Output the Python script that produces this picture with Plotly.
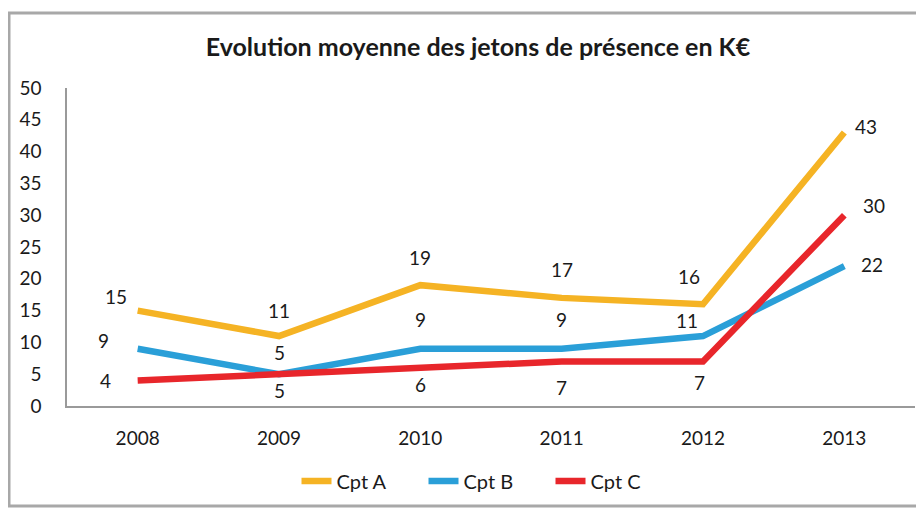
import plotly.graph_objects as go

years = ["2008", "2009", "2010", "2011", "2012", "2013"]
cpt_a = [15, 11, 19, 17, 16, 43]
cpt_b = [9, 5, 9, 9, 11, 22]
cpt_c = [4, 5, 6, 7, 7, 30]

# page body has an 8px margin, so the figure is drawn 8px smaller
# and all pixel positions below are screen positions minus 8
OFF = 8
W, H = 924 - OFF, 509 - OFF
L, R, T, B = 67 - OFF, 924 - 915, 88 - OFF, 509 - 406

series = [
    ("Cpt A", cpt_a, "#F5B324",
     [(-22, 14), (0, 26), (0, 28), (0, 28), (-14, 28), (22, 6)]),
    ("Cpt B", cpt_b, "#2A9FD8",
     [(-34, 8), (0, 22), (0, 29), (0, 29), (-16, 16), (28, 2)]),
    ("Cpt C", cpt_c, "#E8262B",
     [(-32, 0), (0, -16), (0, -17), (0, -26), (-4, -21), (30, 10)]),
]

fig = go.Figure()
annotations = []
for name, vals, color, shifts in series:
    fig.add_trace(go.Scatter(
        x=years, y=vals, name=name, mode="lines",
        line=dict(color=color, width=6.5),
    ))
    # category index, so plotly does not read "2008" as a number
    for i, (v, (dx, dy)) in enumerate(zip(vals, shifts)):
        annotations.append(dict(
            x=i, y=v, text=str(v), showarrow=False,
            xshift=dx, yshift=dy,
            font=dict(family="Lato", size=19, color="#1a1a1a"),
        ))


def px_x(p):
    return (p - OFF - L) / (W - L - R)


def px_y(p):
    return (H - B - (p - OFF)) / (H - T - B)


fig.update_layout(
    width=W, height=H,
    margin=dict(l=L, r=R, t=T, b=B),
    paper_bgcolor="white",
    plot_bgcolor="white",
    title=dict(
        text="<b>Evolution moyenne des jetons de présence en K€</b>",
        x=px_x(478), xanchor="center", y=1 - (47 - OFF) / H, yanchor="middle",
        xref="paper",
        font=dict(family="Lato", size=25, color="#1a1a1a"),
    ),
    font=dict(family="Lato", size=18, color="#1a1a1a"),
    showlegend=True,
    legend=dict(
        orientation="h", x=px_x(487), xanchor="center",
        y=px_y(481), yanchor="middle",
        font=dict(size=20), itemwidth=30, entrywidth=82,
    ),
    annotations=annotations,
    shapes=[dict(
        type="rect", xref="paper", yref="paper",
        x0=px_x(9), x1=px_x(921), y0=px_y(506), y1=px_y(13),
        line=dict(color="#a8a8a8", width=3),
    )],
)
fig.update_xaxes(
    type="category", range=[-0.5, len(years) - 0.5],
    showline=True, linecolor="#9a9a9a", linewidth=1.5,
    showgrid=False, ticks="", ticklabelstandoff=14,
    tickfont=dict(size=19),
)
fig.update_yaxes(
    range=[0, 50], dtick=5, showline=True, linecolor="#9a9a9a",
    linewidth=1.5, showgrid=False, zeroline=False, ticks="",
    ticklabelstandoff=20, tickfont=dict(size=19),
)

fig.write_html("out.html")
